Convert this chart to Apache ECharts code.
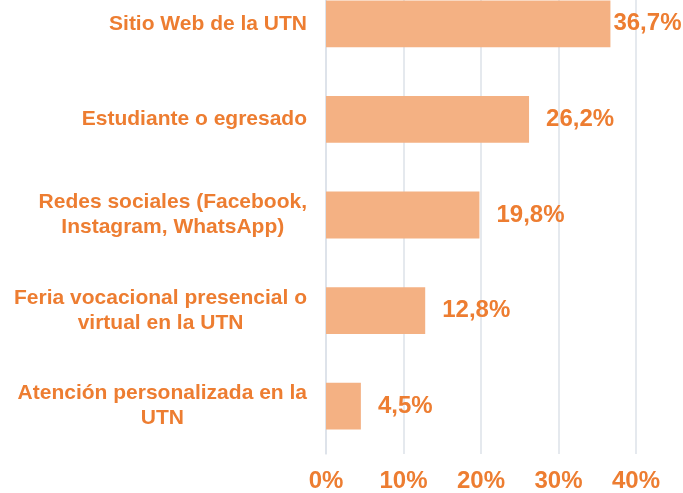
<!DOCTYPE html>
<html>
<head>
<meta charset="utf-8">
<script src="https://cdn.jsdelivr.net/npm/echarts@6/dist/echarts.min.js"></script>
<style>
  html, body { margin: 0; padding: 0; background: #fff; overflow: hidden; }
  #main { width: 683px; height: 517px; margin-top: -24px; }
</style>
</head>
<body>
<div id="main"></div>
<script>
var categories = [
  'Sitio Web de la UTN',
  'Estudiante o egresado',
  'Redes sociales (Facebook,\nInstagram, WhatsApp)',
  'Feria vocacional presencial o\nvirtual en la UTN',
  'Atención personalizada en la\nUTN'
];
var values = [36.7, 26.2, 19.8, 12.8, 4.5];
var ticks = [0, 10, 20, 30, 40];

var orange = '#ED7D31';
var font = 'Liberation Sans, Arial, sans-serif';

var myChart = echarts.init(document.getElementById('main'));
myChart.setOption({
  animation: false,
  grid: {
    left: 326,
    right: 47,
    top: 0,
    bottom: 39
  },
  xAxis: {
    type: 'value',
    min: 0,
    max: 40,
    interval: 10,
    axisLine: { show: false },
    axisTick: { show: false },
    splitLine: { lineStyle: { color: '#DDE2E8', width: 1.5 } },
    axisLabel: {
      margin: 15,
      color: orange,
      fontFamily: font,
      fontWeight: 'bold',
      fontSize: 24,
      formatter: function (v) { return ticks.indexOf(v) >= 0 ? v + '%' : ''; }
    }
  },
  yAxis: {
    type: 'category',
    inverse: true,
    data: categories,
    axisLine: { show: true, lineStyle: { color: '#DDE2E8', width: 1.5 } },
    axisTick: { show: false },
    axisLabel: {
      margin: 19,
      align: 'right',
      formatter: function (v) {
        return v.split('\n').map(function (l) { return '{c|' + l + '}'; }).join('\n');
      },
      rich: {
        c: {
          align: 'center',
          color: orange,
          fontFamily: font,
          fontWeight: 'bold',
          fontSize: 21,
          lineHeight: 25
        }
      }
    }
  },
  series: [{
    type: 'bar',
    data: values.map(function (v, i) {
      // the longest bar's label sits tight against the bar to fit the frame
      return i === 0 ? { value: v, label: { distance: 3 } } : v;
    }),
    barCategoryGap: '51%',
    itemStyle: { color: '#F4B183' },
    label: {
      show: true,
      position: 'right',
      distance: 17,
      color: orange,
      fontFamily: font,
      fontWeight: 'bold',
      fontSize: 24,
      formatter: function (p) { return p.value.toFixed(1).replace('.', ',') + '%'; }
    }
  }]
});
</script>
</body>
</html>
